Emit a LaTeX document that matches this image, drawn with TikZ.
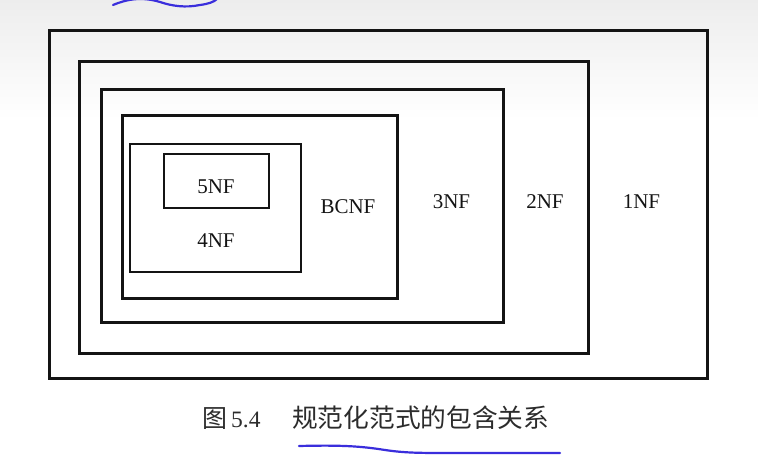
\documentclass[tikz,border=0pt]{standalone}
\usepackage{fontspec}
\setmainfont{Liberation Serif}
\newfontfamily\cjk{Noto Sans CJK SC}
\definecolor{pen}{HTML}{3A2EDC}
\definecolor{ink}{HTML}{141414}
\tikzset{
  nfbox/.style={draw=ink, line width=3pt, line join=miter},
  nflabel/.style={anchor=base, inner sep=0pt, text=ink, font=\fontsize{21}{25}\selectfont},
  capfont/.style={anchor=base west, inner sep=0pt, text=ink!90},
  penline/.style={draw=pen, line width=2.2pt, line cap=round}
}
\begin{document}
\begin{tikzpicture}[x=1pt,y=-1pt]
\useasboundingbox (0,0) rectangle (758,462);
\fill[white] (0,0) rectangle (758,462);
\shade[top color=gray!14, bottom color=white] (0,0) rectangle (758,120);
% nested boxes
\draw[nfbox] (49,31) rectangle (707,379);
\draw[nfbox] (79,62) rectangle (588,354);
\draw[nfbox] (101,90) rectangle (503,323);
\draw[nfbox] (122,116) rectangle (397,299);
\draw[nfbox, line width=2.7pt] (130,144) rectangle (301,272);
\draw[nfbox, line width=2.7pt] (164,154) rectangle (269,208);
% labels
\node[nflabel] (l5) at (216,193.5) {5NF};
\node[nflabel] (l4) at (216,247.5) {4NF};
\node[nflabel] (lb) at (348,213.5) {BCNF};
\node[nflabel] (l3) at (451.5,209) {3NF};
\node[nflabel] (l2) at (545,209) {2NF};
\node[nflabel] (l1) at (641.5,209) {1NF};
% caption
\node[capfont, font=\cjk\fontsize{25}{28}\selectfont] (fig) at (202,428) {图};
\node[capfont, font=\fontsize{23.5}{27}\selectfont] (num) at (231,428) {5.4};
\node[capfont, font=\cjk\fontsize{25.7}{28}\selectfont] (cap) at (292,428) {规范化范式的包含关系};
% hand-drawn pen marks
\draw[penline] (113,5) .. controls (125,0) and (140,-4) .. (160,2)
  .. controls (172,6) and (185,8) .. (200,5) .. controls (208,4) and (214,2) .. (217,-1);
\draw[penline] (299,446) .. controls (340,445) and (360,446) .. (385,450)
  .. controls (405,453) and (420,453) .. (450,453) -- (560,453);
\end{tikzpicture}
\end{document}
